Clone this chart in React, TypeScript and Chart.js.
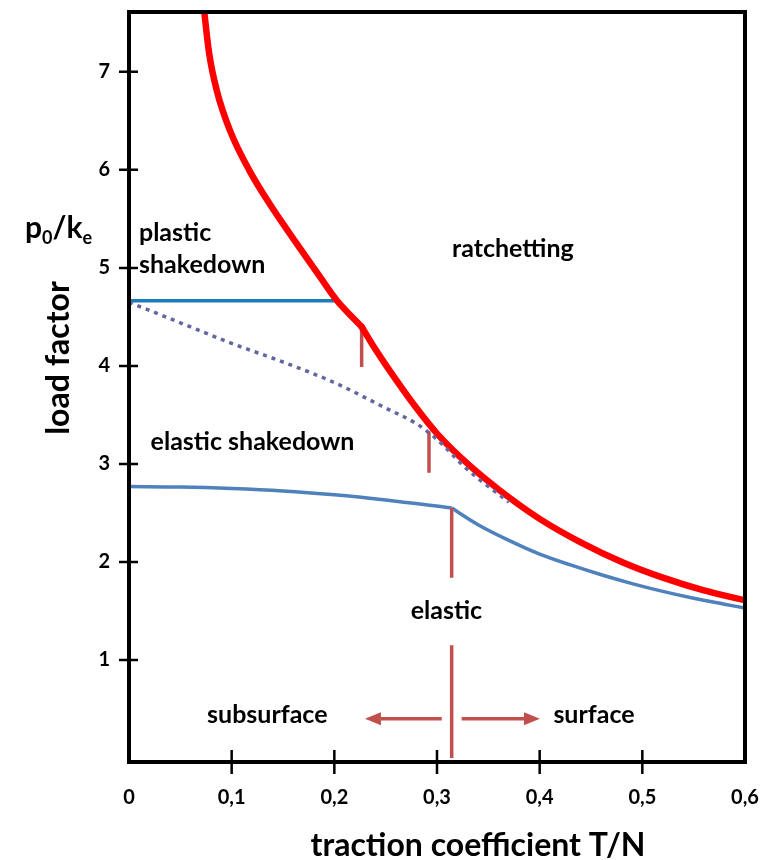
import { useEffect, useRef } from 'react';
import { Chart, registerables } from 'chart.js';

Chart.register(...registerables);

const FONT = 'Lato, "Open Sans", sans-serif';

// ---- data ----
const redUpperX = [0.0731, 0.0779, 0.0857, 0.0984, 0.1169, 0.1403, 0.1666, 0.1866, 0.2023, 0.2266];
const redUpperY = [7.63, 7.2, 6.8, 6.4, 6.0, 5.6, 5.2, 4.9, 4.67, 4.4];

const redLowerX = [0.2266, 0.24, 0.26, 0.28, 0.3, 0.33, 0.36, 0.4, 0.44, 0.48, 0.52, 0.56, 0.6];
const redLowerY = [4.4, 4.17, 3.86, 3.57, 3.31, 3.0, 2.74, 2.44, 2.2, 2.0, 1.84, 1.71, 1.61];

const dottedX = [0, 0.05, 0.1, 0.15, 0.2, 0.25, 0.28, 0.3, 0.33, 0.37];
const dottedY = [4.65, 4.44, 4.23, 4.04, 3.83, 3.57, 3.41, 3.25, 2.94, 2.61];

const plasticX = [0, 0.2023];
const plasticY = [4.665, 4.665];

const elasticLeftX = [0, 0.05, 0.1, 0.15, 0.2, 0.25, 0.3143];
const elasticLeftY = [2.77, 2.765, 2.75, 2.725, 2.685, 2.632, 2.55];

const elasticRightX = [0.3143, 0.34, 0.37, 0.4, 0.43, 0.46, 0.49, 0.52, 0.55, 0.58, 0.6];
const elasticRightY = [2.55, 2.38, 2.22, 2.08, 1.97, 1.87, 1.78, 1.7, 1.63, 1.57, 1.53];

// vertical markers: x, yFrom, yTo
const markerX = [0.2266, 0.2922, 0.3143, 0.3143];
const markerYFrom = [4.4, 3.33, 2.55, 1.15];
const markerYTo = [3.99, 2.91, 1.84, 0];

// arrows: shaft start x, head base x, y
const arrowFromX = [0.3046, 0.324];
const arrowToX = [0.2454, 0.3847];
const arrowY = [0.4, 0.4];

// region labels: text, x (centre), y (baseline)
const labelText = ['ratchetting', 'elastic shakedown', 'elastic', 'subsurface', 'surface'];
const labelX = [0.3739, 0.1203, 0.3092, 0.1347, 0.4529];
const labelY = [5.115, 3.145, 1.415, 0.354, 0.354];

const plasticLabel = ['plastic', 'shakedown'];
const plasticLabelX = 0.0097;
const plasticLabelY = [5.27, 4.945];

const xTickValues = [0, 0.1, 0.2, 0.3, 0.4, 0.5, 0.6];
const yTickValues = [1, 2, 3, 4, 5, 6, 7];

const RED = '#ff0000';
const MARK = '#c0504d';

function pts(xs: number[], ys: number[]) {
  return xs.map((x, i) => ({ x, y: ys[i] }));
}

function lineDs(data: any[], color: string, width: number, extra: any = {}) {
  return {
    data,
    borderColor: color,
    backgroundColor: color,
    borderWidth: width,
    pointRadius: 0,
    fill: false,
    tension: 0,
    ...extra,
  };
}

function zeroPad(s: any) {
  s.paddingLeft = 0;
  s.paddingRight = 0;
  s.paddingTop = 0;
  s.paddingBottom = 0;
}

const decor = {
  id: 'decor',
  afterDatasetsDraw(chart: any) {
    const { ctx, chartArea: a, scales } = chart;
    const xs = scales.x;
    const ys = scales.y;
    ctx.save();

    // arrow heads
    chart.data.datasets.forEach((ds: any, i: number) => {
      if (!ds.arrowHead) return;
      const meta = chart.getDatasetMeta(i);
      const n = meta.data.length;
      const p1 = meta.data[n - 2];
      const p2 = meta.data[n - 1];
      const ang = Math.atan2(p2.y - p1.y, p2.x - p1.x);
      const L = ds.arrowHead.length;
      const W = ds.arrowHead.half;
      const c = Math.cos(ang);
      const s = Math.sin(ang);
      ctx.fillStyle = ds.borderColor;
      ctx.beginPath();
      ctx.moveTo(p2.x + L * c, p2.y + L * s);
      ctx.lineTo(p2.x - W * s, p2.y + W * c);
      ctx.lineTo(p2.x + W * s, p2.y - W * c);
      ctx.closePath();
      ctx.fill();
    });

    // frame
    ctx.strokeStyle = '#000';
    ctx.lineWidth = 4;
    ctx.strokeRect(a.left, a.top, a.right - a.left, a.bottom - a.top);

    // crossing tick marks
    ctx.lineWidth = 2.5;
    ctx.beginPath();
    yTickValues.forEach((v) => {
      const py = ys.getPixelForValue(v);
      ctx.moveTo(a.left - 10, py);
      ctx.lineTo(a.left + 9, py);
    });
    xTickValues.forEach((v) => {
      if (v <= 0 || v >= 0.6) return;
      const px = xs.getPixelForValue(v);
      ctx.moveTo(px, a.bottom - 12);
      ctx.lineTo(px, a.bottom + 12);
    });
    ctx.stroke();

    // region labels
    ctx.fillStyle = '#000';
    ctx.font = `bold 25px ${FONT}`;
    ctx.textBaseline = 'alphabetic';
    ctx.textAlign = 'center';
    labelText.forEach((t, i) => {
      ctx.fillText(t, xs.getPixelForValue(labelX[i]), ys.getPixelForValue(labelY[i]));
    });
    ctx.textAlign = 'left';
    plasticLabel.forEach((t, i) => {
      ctx.fillText(t, xs.getPixelForValue(plasticLabelX), ys.getPixelForValue(plasticLabelY[i]));
    });

    // axis titles
    ctx.font = `bold 32px ${FONT}`;
    ctx.textAlign = 'center';
    ctx.fillText('traction coefficient T/N', a.left + 349, 856);

    ctx.save();
    ctx.translate(69, 358);
    ctx.rotate(-Math.PI / 2);
    ctx.textBaseline = 'alphabetic';
    ctx.fillText('load factor', 0, 0);
    ctx.restore();

    // p0/ke
    ctx.textAlign = 'left';
    let cx = 25;
    const base = 238;
    const big = `bold 30px ${FONT}`;
    const small = `bold 18px ${FONT}`;
    const parts: [string, boolean][] = [['p', false], ['0', true], ['/k', false], ['e', true]];
    parts.forEach(([t, sub]) => {
      ctx.font = sub ? small : big;
      ctx.fillText(t, cx, sub ? base + 6 : base);
      cx += ctx.measureText(t).width;
    });

    ctx.restore();
  },
};

export default function App() {
  const ref = useRef<HTMLCanvasElement>(null);

  useEffect(() => {
    if (!ref.current) return;
    const markers = markerX.map((x, i) =>
      lineDs([{ x, y: markerYFrom[i] }, { x, y: markerYTo[i] }], MARK, 3.5)
    );
    const arrows = arrowFromX.map((x, i) =>
      lineDs([{ x, y: arrowY[i] }, { x: arrowToX[i], y: arrowY[i] }], MARK, 3.5, {
        arrowHead: { length: 16, half: 6.5 },
      })
    );
    const chart = new Chart(ref.current, {
      type: 'line',
      data: {
        datasets: [
          lineDs(pts(dottedX, dottedY), '#65659f', 3.5, { cubicInterpolationMode: 'monotone', borderDash: [4, 5] }),
          lineDs(pts(redUpperX, redUpperY), RED, 6.5, { cubicInterpolationMode: 'monotone', borderCapStyle: 'round', borderJoinStyle: 'round' }),
          lineDs(pts(redLowerX, redLowerY), RED, 6.5, { cubicInterpolationMode: 'monotone', borderCapStyle: 'round', borderJoinStyle: 'round' }),
          ...markers,
          ...arrows,
          lineDs(pts(plasticX, plasticY), '#1a7bbd', 3.5),
          lineDs(pts(elasticLeftX, elasticLeftY), '#4f81bd', 3.5, { cubicInterpolationMode: 'monotone' }),
          lineDs(pts(elasticRightX, elasticRightY), '#4f81bd', 3.5, { cubicInterpolationMode: 'monotone' }),
        ] as any,
      },
      plugins: [decor],
      options: {
        responsive: false,
        devicePixelRatio: 1,
        animation: false,
        events: [],
        layout: { padding: { top: 12, right: 17, left: 0, bottom: 0 } },
        plugins: { legend: { display: false }, tooltip: { enabled: false } },
        scales: {
          x: {
            type: 'linear',
            min: 0,
            max: 0.6,
            afterBuildTicks: (s: any) => {
              s.ticks = xTickValues.map((v) => ({ value: v }));
            },
            afterFit: (s: any) => {
              s.height = 98;
              zeroPad(s);
            },
            grid: { display: false, drawTicks: false },
            border: { display: false },
            ticks: {
              padding: 24,
              color: '#000',
              font: { family: FONT, size: 20, weight: 'bold' },
              maxRotation: 0,
              autoSkip: false,
              callback: (v: any) => (v === 0 ? '0' : Number(v).toFixed(1).replace('.', ',')),
            },
          },
          y: {
            type: 'linear',
            min: -0.04,
            max: 7.61,
            afterBuildTicks: (s: any) => {
              s.ticks = yTickValues.map((v) => ({ value: v }));
            },
            afterFit: (s: any) => {
              s.width = 129;
              zeroPad(s);
            },
            grid: { display: false, drawTicks: false },
            border: { display: false },
            ticks: {
              padding: 19,
              color: '#000',
              font: { family: FONT, size: 20, weight: 'bold' },
              autoSkip: false,
              callback: (v: any) => String(v),
            },
          },
        },
      } as any,
    });
    return () => chart.destroy();
  }, []);

  return (
    <div style={{ position: 'fixed', left: 0, top: 0, width: 762, height: 860, background: '#fff' }}>
      <canvas ref={ref} width={762} height={860} style={{ width: 762, height: 860, display: 'block' }} />
    </div>
  );
}
